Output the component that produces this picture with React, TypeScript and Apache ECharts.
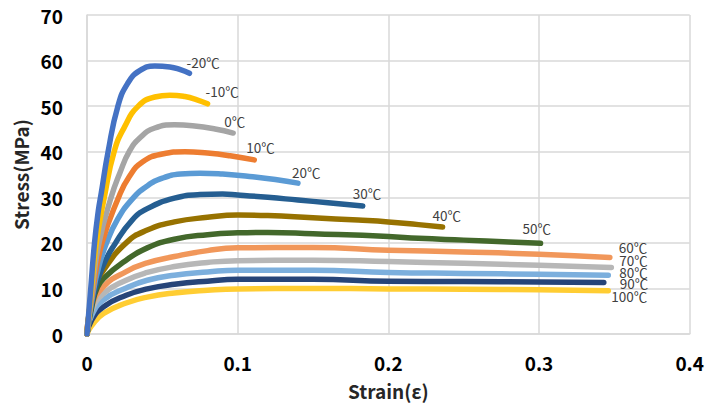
import React, { useEffect, useRef } from "react";
import * as echarts from "echarts";

// Temperature labels
const tempLabels = ["-20℃", "-10℃", "0℃", "10℃", "20℃", "30℃", "40℃", "50℃", "60℃", "70℃", "80℃", "90℃", "100℃"];

// Stress-strain curves [strain, stress(MPa)]
const curveM20 = [[0, 0], [0.0025, 10], [0.005, 20], [0.0075, 27], [0.0095, 31], [0.014, 40], [0.0205, 50], [0.027, 55], [0.035, 57.8], [0.045, 58.8], [0.055, 58.6], [0.062, 58], [0.068, 57.2]];
const curveM10 = [[0, 0], [0.003, 10], [0.0062, 20], [0.0115, 30], [0.018, 40], [0.025, 45.5], [0.034, 50], [0.045, 52], [0.055, 52.4], [0.065, 52.1], [0.073, 51.4], [0.08, 50.5]];
const curve0 = [[0, 0], [0.0035, 10], [0.008, 20], [0.016, 30], [0.022, 35.5], [0.028, 40], [0.035, 43], [0.045, 45.2], [0.058, 45.9], [0.07, 45.7], [0.085, 45], [0.097, 44.1]];
const curve10 = [[0, 0], [0.004, 10], [0.01, 20], [0.021, 30], [0.028, 34.5], [0.037, 37.8], [0.05, 39.5], [0.065, 40], [0.08, 39.7], [0.095, 39.1], [0.111, 38.2]];
const curve20 = [[0, 0], [0.004, 9], [0.008, 15], [0.013, 20], [0.02, 25], [0.03, 29.6], [0.04, 32.5], [0.05, 34.2], [0.062, 35.1], [0.075, 35.3], [0.09, 35.1], [0.11, 34.5], [0.125, 33.9], [0.14, 33.1]];
const curve30 = [[0, 0], [0.004, 8], [0.01, 14.5], [0.019, 20], [0.03, 25], [0.04, 27.5], [0.058, 29.8], [0.075, 30.6], [0.09, 30.7], [0.1, 30.5], [0.12, 30], [0.14, 29.4], [0.16, 28.8], [0.183, 28.1]];
const curve40 = [[0, 0], [0.0046, 10], [0.011, 14], [0.026, 20], [0.04, 22.8], [0.058, 24.6], [0.08, 25.6], [0.1, 26.1], [0.12, 26], [0.15, 25.5], [0.18, 25], [0.2, 24.6], [0.22, 24], [0.236, 23.5]];
const curve50 = [[0, 0], [0.0035, 6.5], [0.0066, 10], [0.011, 12.2], [0.026, 16.2], [0.04, 18.9], [0.058, 20.8], [0.08, 21.8], [0.1, 22.2], [0.12, 22.3], [0.15, 22], [0.2, 21.4], [0.22, 21], [0.25, 20.6], [0.28, 20.2], [0.301, 19.9]];
const curve60 = [[0, 0], [0.003, 6], [0.011, 10.4], [0.026, 13.7], [0.04, 15.6], [0.058, 17], [0.08, 18.3], [0.1, 18.9], [0.15, 19], [0.2, 18.4], [0.25, 18], [0.3, 17.5], [0.347, 16.8]];
const curve70 = [[0, 0], [0.003, 5], [0.011, 8.9], [0.026, 11.8], [0.04, 13.5], [0.058, 14.8], [0.08, 15.7], [0.1, 16.1], [0.15, 16.2], [0.2, 15.9], [0.25, 15.5], [0.3, 15.1], [0.348, 14.6]];
const curve80 = [[0, 0], [0.003, 4], [0.011, 7.5], [0.026, 10.1], [0.04, 11.8], [0.058, 12.9], [0.08, 13.6], [0.1, 14], [0.15, 14], [0.2, 13.5], [0.25, 13.3], [0.3, 13.1], [0.346, 12.9]];
const curve90 = [[0, 0], [0.003, 3], [0.011, 6], [0.026, 8.5], [0.04, 9.9], [0.058, 10.9], [0.08, 11.6], [0.1, 12], [0.15, 12], [0.2, 11.6], [0.25, 11.5], [0.3, 11.4], [0.343, 11.3]];
const curve100 = [[0, 0], [0.003, 1.8], [0.011, 4.5], [0.026, 6.8], [0.04, 8.1], [0.058, 9], [0.08, 9.6], [0.1, 9.9], [0.15, 10], [0.2, 9.9], [0.25, 9.8], [0.3, 9.7], [0.346, 9.5]];

const curves = [curveM20, curveM10, curve0, curve10, curve20, curve30, curve40, curve50, curve60, curve70, curve80, curve90, curve100];

const colors = ["#4472C4", "#FFC000", "#A5A5A5", "#ED7D31", "#5B9BD5", "#255E91", "#977200", "#43682B", "#F1975A", "#B7B7B7", "#7CAFDD", "#264478", "#FFCD33"];
const labelOffsets = [[-3, -11], [-2, -13], [-9, -12], [-8, -13], [-6, -11], [-10, -13], [-10, -12], [-18, -15], [9, -10], [8, -7], [11, -3], [16, 0], [3, 5]];

const FONT = "'Noto Sans CJK KR', 'Noto Sans', sans-serif";

export default function App() {
  const ref = useRef<HTMLDivElement>(null);
  useEffect(() => {
    document.body.style.margin = "0";
    const chart = echarts.init(ref.current!, undefined, { renderer: "svg" });
    const series = curves.map((c, i) => ({
      type: "line",
      name: tempLabels[i],
      data: c,
      smooth: 0.5,
      showSymbol: false,
      symbol: "none",
      z: 13 - i,
      lineStyle: { width: 5.5, color: colors[i], cap: "round", join: "round" },
      emphasis: { disabled: true },
      endLabel: {
        show: true,
        formatter: tempLabels[i],
        distance: 0,
        offset: labelOffsets[i],
        color: "#404040",
        fontSize: 13.5,
        lineHeight: 12,
        fontFamily: FONT,
      },
    }));
    chart.setOption({
      animation: false,
      grid: { left: 87, top: 15, right: 16, bottom: 75 },
      xAxis: {
        type: "value",
        min: 0,
        max: 0.4,
        interval: 0.1,
        name: "Strain(ε)",
        nameLocation: "middle",
        nameGap: 47,
        nameTextStyle: { fontSize: 19, fontWeight: "bold", color: "#262626", fontFamily: FONT },
        axisLine: { show: true, lineStyle: { color: "#D9D9D9", width: 1.5 } },
        axisTick: { show: false },
        splitLine: { show: true, lineStyle: { color: "#D9D9D9", width: 1.5 } },
        axisLabel: { fontSize: 19, fontWeight: "bold", color: "#000", fontFamily: FONT, margin: 19, formatter: (v: number) => (v === 0 ? "0" : String(Math.round(v * 10) / 10)) },
      },
      yAxis: {
        type: "value",
        min: 0,
        max: 70,
        interval: 10,
        name: "Stress(MPa)",
        nameLocation: "middle",
        nameGap: 55,
        nameTextStyle: { fontSize: 19, fontWeight: "bold", color: "#262626", fontFamily: FONT },
        axisLine: { show: true, lineStyle: { color: "#D9D9D9", width: 1.5 } },
        axisTick: { show: false },
        splitLine: { show: true, lineStyle: { color: "#D9D9D9", width: 1.5 } },
        axisLabel: { fontSize: 19, fontWeight: "bold", color: "#000", fontFamily: FONT, margin: 24 },
      },
      series,
    });
    return () => chart.dispose();
  }, []);
  return <div ref={ref} style={{ width: 707, height: 409 }} />;
}
